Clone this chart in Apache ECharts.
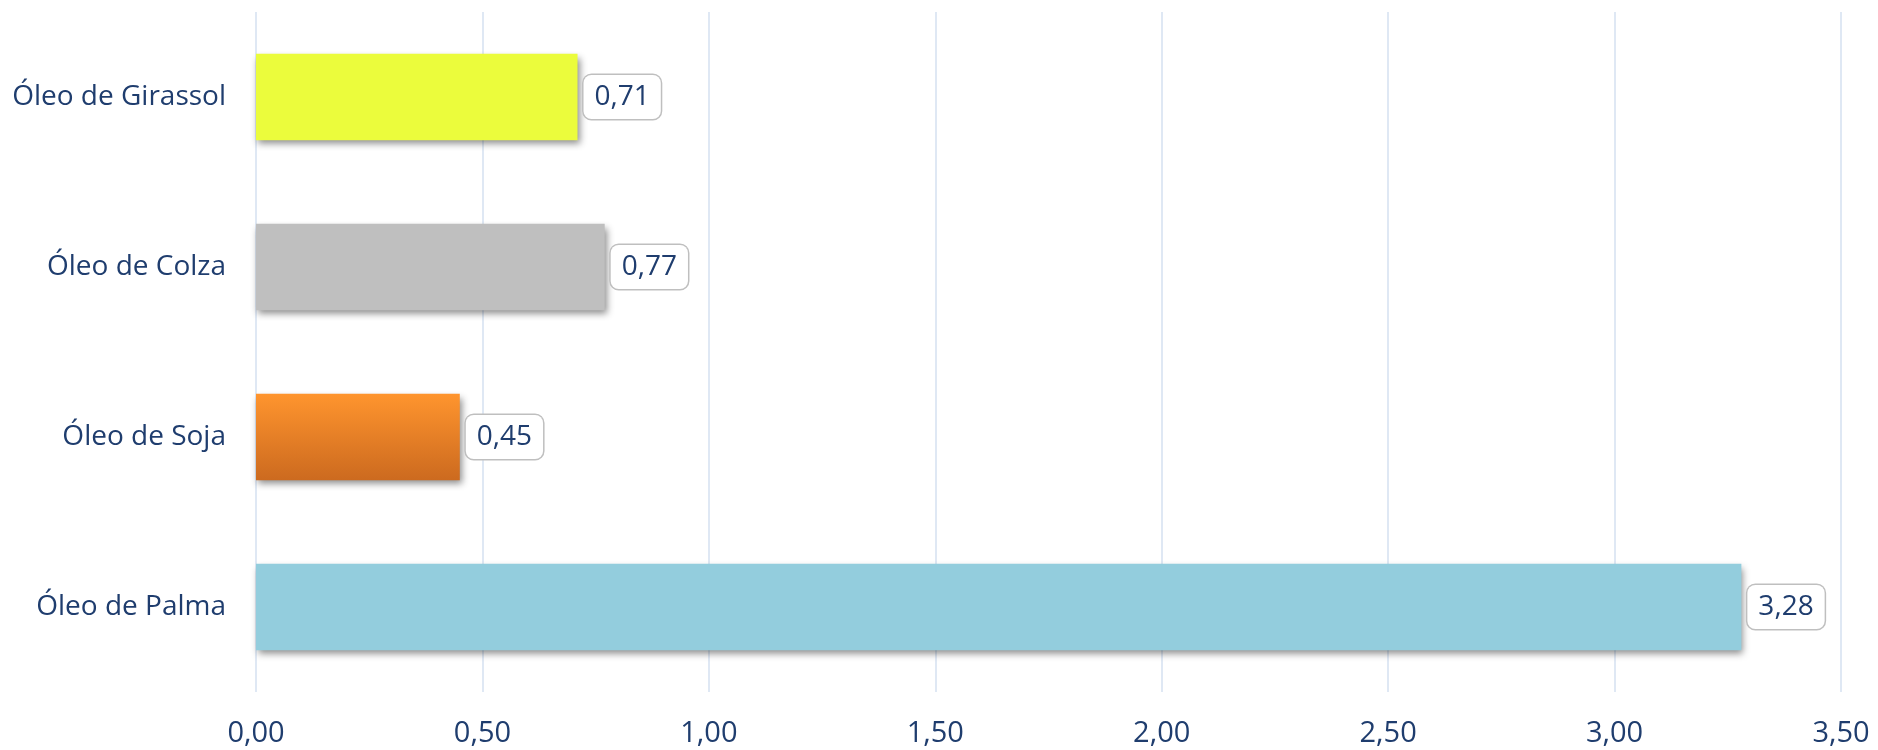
<!DOCTYPE html>
<html>
<head>
    <meta charset="utf-8">
    <title>Óleos</title>
    <script src="https://cdn.jsdelivr.net/npm/echarts/dist/echarts.min.js"></script>
    <style>
        html, body { margin: 0; padding: 0; background: #fff; }
        #chartShow { width: 1878px; height: 750px; }
    </style>
</head>
<body>
<div id="chartShow"></div>
<script>
    // dados (de cima para baixo)
    var categorias = ['Óleo de Girassol', 'Óleo de Colza', 'Óleo de Soja', 'Óleo de Palma'];
    var valores = [0.71, 0.77, 0.45, 3.28];
    var ticksX = [0, 0.5, 1, 1.5, 2, 2.5, 3, 3.5];

    var azul = '#1F3D6E';
    var cores = [
        '#EBFC3C',
        '#BFBFBF',
        new echarts.graphic.LinearGradient(0, 0, 0, 1, [
            {offset: 0, color: '#FF952E'},
            {offset: 1, color: '#CC6A1F'}
        ]),
        '#93CDDD'
    ];

    function virgula(v) {
        return (+v).toFixed(2).replace('.', ',');
    }

    var dados = [];
    for (var i = 0; i < valores.length; i++) {
        dados.push({value: valores[i], itemStyle: {color: cores[i]}});
    }

    var chart = echarts.init(document.getElementById('chartShow'));
    var option = {
        animation: false,
        grid: {left: 256, right: 37, top: 12, bottom: 58},
        xAxis: {
            type: 'value',
            min: ticksX[0],
            max: ticksX[ticksX.length - 1],
            interval: 0.5,
            axisLine: {show: false},
            axisTick: {show: false},
            splitLine: {lineStyle: {color: '#D4E0F0', width: 1.5}},
            axisLabel: {
                margin: 27,
                color: azul,
                fontFamily: 'Open Sans',
                fontSize: 29,
                formatter: virgula
            }
        },
        yAxis: {
            type: 'category',
            inverse: true,
            data: categorias,
            axisLine: {show: false},
            axisTick: {show: false},
            axisLabel: {
                margin: 30,
                color: azul,
                fontFamily: 'Open Sans',
                fontSize: 28
            }
        },
        series: [{
            type: 'bar',
            barWidth: '51%',
            data: dados,
            itemStyle: {
                shadowColor: 'rgba(0,0,0,0.45)',
                shadowBlur: 7,
                shadowOffsetX: 2,
                shadowOffsetY: 4
            },
            label: {
                show: true,
                position: 'right',
                distance: 6,
                color: azul,
                fontFamily: 'Open Sans',
                fontSize: 28,
                backgroundColor: '#fff',
                borderColor: '#BFBFBF',
                borderWidth: 1.5,
                borderRadius: 8,
                padding: [8, 11, 8, 11],
                formatter: function (p) { return virgula(p.value); }
            }
        }]
    };
    chart.setOption(option);
</script>
</body>
</html>
